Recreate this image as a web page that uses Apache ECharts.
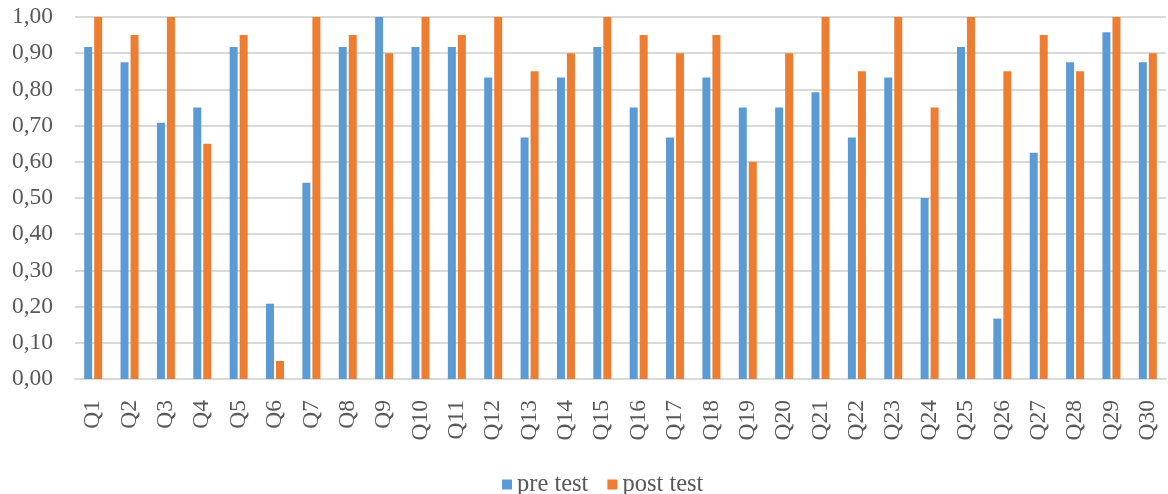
<!DOCTYPE html>
<html><head><meta charset="utf-8">
<script src="https://cdn.jsdelivr.net/npm/echarts@6/dist/echarts.min.js"></script>
<style>html,body{margin:0;padding:0;background:#fff}#c{width:1168px;height:494px}</style>
</head><body><div id="c"></div>
<script>
const categories = ['Q1','Q2','Q3','Q4','Q5','Q6','Q7','Q8','Q9','Q10','Q11','Q12','Q13','Q14','Q15','Q16','Q17','Q18','Q19','Q20','Q21','Q22','Q23','Q24','Q25','Q26','Q27','Q28','Q29','Q30'];
const preTest = [0.917,0.875,0.708,0.75,0.917,0.208,0.542,0.917,1.00,0.917,0.917,0.833,0.667,0.833,0.917,0.75,0.667,0.833,0.75,0.75,0.792,0.667,0.833,0.50,0.917,0.167,0.625,0.875,0.958,0.875];
const postTest = [1.00,0.95,1.00,0.65,0.95,0.05,1.00,0.95,0.90,1.00,0.95,1.00,0.85,0.90,1.00,0.95,0.90,0.95,0.60,0.90,1.00,0.85,1.00,0.75,1.00,0.85,0.95,0.85,1.00,0.90];
const seriesNames = ['pre test','post test'];

const font = 'Liberation Serif, Times New Roman, serif';
const chart = echarts.init(document.getElementById('c'));
chart.setOption({
  animation:false,
  textStyle:{fontFamily:font},
  grid:{left:75,right:2,top:17,bottom:115},
  legend:{top:467,left:497,itemWidth:10,itemHeight:10,itemGap:19,icon:'rect',
    textStyle:{fontFamily:font,fontSize:24.5,color:'#595959'},data:seriesNames},
  xAxis:{type:'category',data:categories,
    axisLine:{lineStyle:{color:'#d9d9d9',width:2}},axisTick:{show:false},
    axisLabel:{rotate:90,fontFamily:font,fontSize:23.5,color:'#595959',margin:21}},
  yAxis:{type:'value',min:0,max:1,interval:0.1,
    axisLine:{show:false},axisTick:{show:false},
    splitLine:{lineStyle:{color:'#d9d9d9',width:2}},
    axisLabel:{fontFamily:font,fontSize:23.5,color:'#595959',margin:22,
      formatter:v=>v.toFixed(2).replace('.',',')}},
  series:[
    {name:seriesNames[0],type:'bar',data:preTest,barWidth:8,barGap:'25%',itemStyle:{color:'#5b9bd5'}},
    {name:seriesNames[1],type:'bar',data:postTest,barWidth:8,itemStyle:{color:'#ed7d31'}}
  ]
});
</script></body></html>
